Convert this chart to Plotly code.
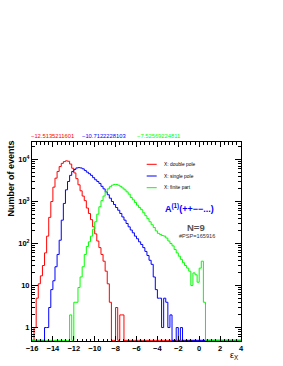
import numpy as np
import plotly.graph_objects as go

# ---------------- data ----------------
bin_start = -16.0
bin_width = 0.2
n_bins = 100

# values for bins starting at given left edge (others are 0)
double_pole_start = -15.8
double_pole = [1, 5, 11, 17, 30, 60, 150, 420, 1000, 2200, 3600, 5200, 6800, 8100, 8900,
               9300, 9100, 7800, 6200, 4800, 3500, 2500, 1800, 1350, 1050, 700, 520, 370,
               250, 170, 115, 80, 55, 38, 22, 11, 4, 0, 0, 3, 0, 2, 2]

single_pole_start = -14.8
single_pole = [1, 1, 3, 8, 13, 28, 55, 120, 360, 900, 1900, 3000, 4200, 5200, 5800, 6300,
               6400, 6300, 6000, 5500, 5000, 4600, 4200, 3700, 3300, 3000, 2700, 2300, 2000,
               1700, 1450, 1200, 1000, 850, 720, 620, 520, 430, 360, 300, 250, 210, 180, 150,
               130, 110, 95, 80, 65, 52, 40, 32, 16, 8, 5, 5, 1, 5, 4, 1, 2, 0, 0, 1, 0, 1]

finite_part_start = -12.4
finite_part = [2, 0, 4, 4, 9, 16, 28, 55, 85, 110, 150, 220, 330, 500, 750, 1050, 1350, 1700,
               2000, 2250, 2450, 2550, 2550, 2450, 2300, 2100, 1900, 1700, 1500, 1250, 1100,
               950, 820, 720, 640, 540, 460, 390, 330, 280, 240, 200, 175, 165, 155, 150, 135,
               115, 100, 88, 72, 60, 50, 42, 35, 30, 26, 22, 10, 20, 18, 12, 26, 38, 4]

series_names = ["X: double pole", "X: single pole", "X: finite part"]
series_colors = ["#ff0000", "#0000ff", "#00ff00"]
mean_labels = ["\u221212.5135211601", "\u221210.7122228103", "\u22127.52569224811"]

y_tick_vals = [1, 10, 100, 1000, 10000]
y_tick_text = ["1", "10", "10<sup>2</sup>", "10<sup>3</sup>", "10<sup>4</sup>"]

process_label = "A<sup>(1)</sup>(++\u2212\u2212...)"
n_label = "N=9"
psp_label = "#PSP=165916"

# ---------------- build ----------------
edges = bin_start + bin_width * np.arange(n_bins + 1)
floor = 10 ** (-0.305)


def full_hist(start, vals):
    h = np.zeros(n_bins)
    i0 = int(round((start - bin_start) / bin_width))
    h[i0:i0 + len(vals)] = vals
    return h


hists = [full_hist(double_pole_start, double_pole),
         full_hist(single_pole_start, single_pole),
         full_hist(finite_part_start, finite_part)]

fig = go.Figure()
for h, name, col in zip(hists, series_names, series_colors):
    y = np.maximum(h, floor)
    fig.add_trace(go.Scatter(
        x=edges, y=np.append(y, y[-1]), mode="lines", line_shape="hv",
        line=dict(color=col, width=1), name=name, showlegend=False,
        hoverinfo="skip"))

FONT = "Liberation Sans, Arial, Helvetica, sans-serif"

fig.update_layout(
    width=283, height=366,
    margin=dict(l=32, r=42, t=142, b=25, pad=0),
    paper_bgcolor="white", plot_bgcolor="white",
    font=dict(family=FONT, color="black"),
    showlegend=False,
)

fig.update_xaxes(
    range=[-16, 4], tick0=-16, dtick=2, showgrid=False, zeroline=False,
    showline=True, linecolor="black", linewidth=1, mirror="allticks",
    ticks="inside", ticklen=5, tickcolor="black",
    minor=dict(ticks="inside", ticklen=2.5, dtick=0.4, tick0=-16, tickcolor="black",
               showgrid=False),
    tickfont=dict(family=FONT, size=7.5, weight="bold"),
)

minor_y = [k * 10 ** n for n in range(-1, 5) for k in range(2, 10)]
fig.update_yaxes(
    type="log", range=[-0.32, 4.417], showgrid=False, zeroline=False,
    showline=True, linecolor="black", linewidth=1, mirror="allticks",
    tickmode="array", tickvals=y_tick_vals, ticktext=y_tick_text,
    ticks="inside", ticklen=6, tickcolor="black",
    minor=dict(ticks="inside", ticklen=3, tickmode="array", tickvals=minor_y,
               tickcolor="black", showgrid=False),
    tickfont=dict(family=FONT, size=7.5, weight="bold"),
)


def px2x(px):
    return (px - 32) / 209.0


def px2y(py):
    return (341 - py) / 199.0


ann = []
# mean labels above frame
for lab, col, cx in zip(mean_labels, series_colors, [52.5, 103.7, 158.0]):
    ann.append(dict(text=lab, x=px2x(cx), y=px2y(136), xref="paper", yref="paper",
                    showarrow=False, font=dict(family=FONT, size=5.8, color=col),
                    xanchor="center", yanchor="middle"))
# legend
for name, col, py in zip(series_names, series_colors, [164.3, 176.0, 187.7]):
    ann.append(dict(text=name, x=px2x(162.3), y=px2y(py), xref="paper", yref="paper",
                    showarrow=False, font=dict(family=FONT, size=4.9, color="black"),
                    xanchor="left", yanchor="middle"))
    fig.add_shape(type="line", xref="paper", yref="paper",
                  x0=px2x(146.7), x1=px2x(156.7), y0=px2y(py), y1=px2y(py),
                  line=dict(color=col, width=1))

ann.append(dict(text=process_label, x=px2x(189.5), y=px2y(208.3), xref="paper", yref="paper",
                showarrow=False, font=dict(family=FONT, size=9, color="#0000ff", weight="bold"),
                xanchor="center", yanchor="middle"))
ann.append(dict(text=n_label, x=px2x(196), y=px2y(227.3), xref="paper", yref="paper",
                showarrow=False, font=dict(family=FONT, size=9.5, color="#555555", weight="bold"),
                xanchor="center", yanchor="middle"))
ann.append(dict(text=psp_label, x=px2x(196.7), y=px2y(236), xref="paper", yref="paper",
                showarrow=False, font=dict(family=FONT, size=5.6, color="#333333"),
                xanchor="center", yanchor="middle"))
# axis titles
ann.append(dict(text="Number of events", x=px2x(10), y=px2y(178.5), xref="paper", yref="paper",
                showarrow=False, textangle=-90,
                font=dict(family=FONT, size=9, color="black", weight="bold"),
                xanchor="center", yanchor="middle"))
ann.append(dict(text="\u03b5<sub>X</sub>", x=px2x(234), y=px2y(355), xref="paper", yref="paper",
                showarrow=False, font=dict(family=FONT, size=9, color="black"),
                xanchor="center", yanchor="middle"))

fig.update_layout(annotations=ann)
fig.write_html("out.html", config={"displayModeBar": False},
               post_script="document.body.style.margin='0px';document.body.style.padding='0px';")
